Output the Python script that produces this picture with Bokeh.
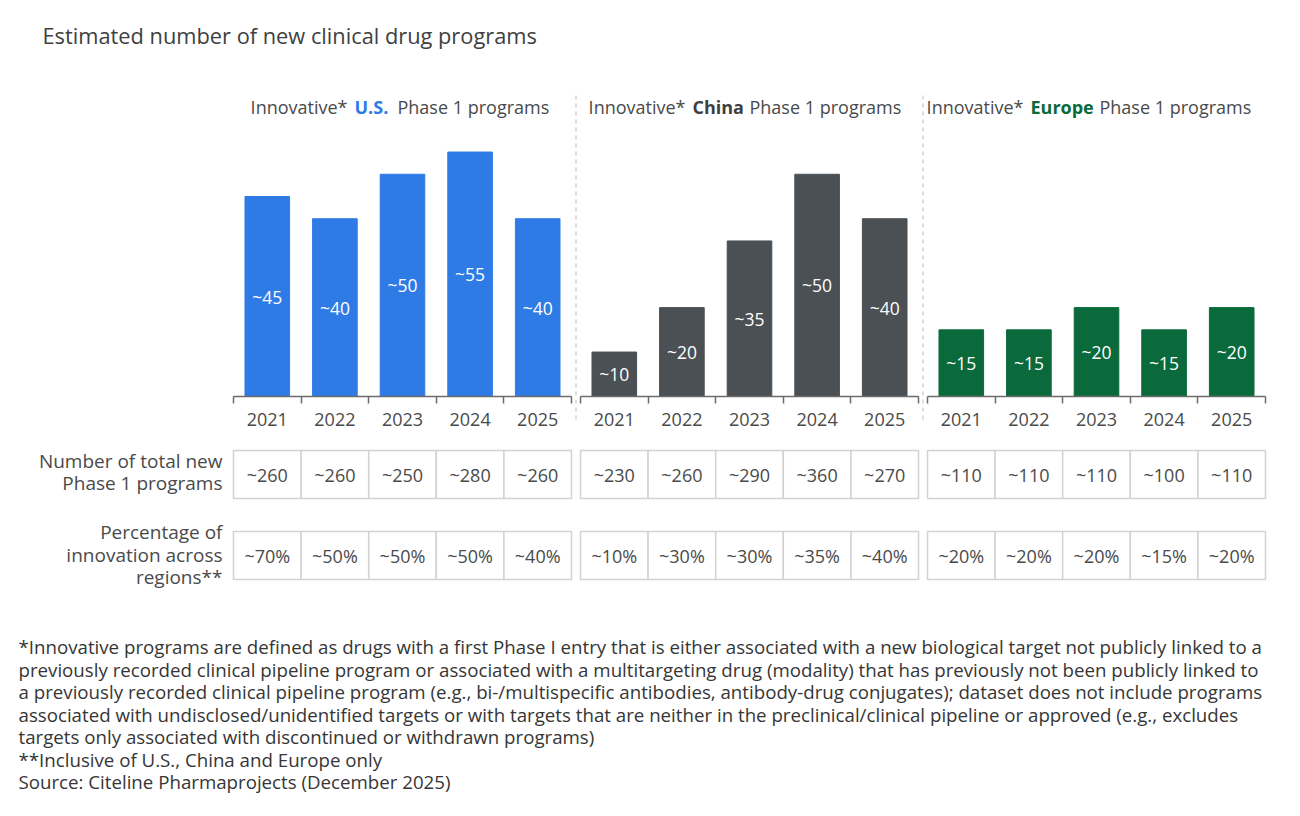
from bokeh.plotting import figure
from bokeh.layouts import column, row
from bokeh.models import (Range1d, LinearAxis, FixedTicker, CustomJSTickFormatter,
                          ColumnDataSource)
from bokeh.core.properties import value
from bokeh.embed import file_html
from bokeh.resources import INLINE

# ---- data -------------------------------------------------------------
years = ["2021", "2022", "2023", "2024", "2025"]

us_innovative = [45, 40, 50, 55, 40]
cn_innovative = [10, 20, 35, 50, 40]
eu_innovative = [15, 15, 20, 15, 20]

us_total = [260, 260, 250, 280, 260]
cn_total = [230, 260, 290, 360, 270]
eu_total = [110, 110, 110, 100, 110]

us_pct = [70, 50, 50, 50, 40]
cn_pct = [10, 30, 30, 35, 40]
eu_pct = [20, 20, 20, 15, 20]

row_labels = [["Number of total new", "Phase 1 programs"],
              ["Percentage of", "innovation across", "regions**"]]

title_text = "Estimated number of new clinical drug programs"
footnotes = [
    "*Innovative programs are defined as drugs with a first Phase I entry that is either associated with a new biological target not publicly linked to a",
    "previously recorded clinical pipeline program or associated with a multitargeting drug (modality) that has previously not been publicly linked to",
    "a previously recorded clinical pipeline program (e.g., bi-/multispecific antibodies, antibody-drug conjugates); dataset does not include programs",
    "associated with undisclosed/unidentified targets or with targets that are neither in the preclinical/clinical pipeline or approved (e.g., excludes",
    "targets only associated with discontinued or withdrawn programs)",
    "**Inclusive of U.S., China and Europe only",
    "Source: Citeline Pharmaprojects (December 2025)",
]

# ---- styling / layout constants ---------------------------------------
FONT = "Open Sans"
TEXT = "#4a4a4a"
GRID = "#d2d2d2"
US_BLUE = "#2f7be6"
CN_GREY = "#4b5055"
EU_GREEN = "#0b6a3b"

W_LEFT, W_PANEL = 227, 347
H_TOP, H_MID, H_FOOT = 72, 528, 216
SLOT_PX = 67.6          # width of one year slot
AXIS_INSET = 6          # px between panel edge and first slot
BASE_PX = 324           # baseline distance from the top of a panel
PX_PER_UNIT = 200 / 45  # vertical scale of the bars


def py(page_y):
    """page-pixel row -> value units of the panel y range"""
    return (BASE_PX + H_TOP - page_y) / PX_PER_UNIT


def base_fig(width, height, xr, yr):
    p = figure(width=width, height=height, x_range=xr, y_range=yr,
               output_backend="svg", toolbar_location=None,
               x_axis_type=None, y_axis_type=None, min_border=0,
               outline_line_color=None, background_fill_color="white",
               border_fill_color="white")
    return p


def panel(word, word_color, bar_color, innov, total, pct, bold_px, separator):
    x0 = -AXIS_INSET / SLOT_PX
    x1 = x0 + W_PANEL / SLOT_PX
    p = base_fig(W_PANEL, H_MID, Range1d(x0, x1),
                 Range1d(-(H_MID - BASE_PX) / PX_PER_UNIT, BASE_PX / PX_PER_UNIT))

    centers = [i + 0.5 for i in range(len(years))]

    # bars and their labels
    src = ColumnDataSource(dict(x=centers, top=innov,
                                mid=[v / 2 for v in innov],
                                lab=["~%d" % v for v in innov]))
    p.vbar(x="x", top="top", bottom=0, width=0.66, source=src,
           fill_color=bar_color, line_color=bar_color)
    p.text(x="x", y="mid", text="lab", source=src, text_color="white",
           text_font=value(FONT), text_font_size="17.5px",
           text_align="center", text_baseline="middle")

    # year axis sitting on the bar baseline
    ax = LinearAxis(fixed_location=0, bounds=(0, len(years)),
                    ticker=FixedTicker(ticks=centers,
                                       minor_ticks=list(range(len(years) + 1))),
                    formatter=CustomJSTickFormatter(
                        args=dict(labels=years),
                        code="return labels[Math.round(tick - 0.5)];"))
    ax.major_tick_line_color = None
    ax.major_tick_in = 0
    ax.major_tick_out = 0
    ax.minor_tick_in = 0
    ax.minor_tick_out = 7
    ax.minor_tick_line_color = "#6b6b6b"
    ax.minor_tick_line_width = 1.5
    ax.axis_line_color = "#6b6b6b"
    ax.axis_line_width = 1.5
    ax.major_label_text_font = FONT
    ax.major_label_text_font_size = "18px"
    ax.major_label_text_color = TEXT
    ax.major_label_standoff = 9
    p.add_layout(ax, "below")

    # table of totals and shares
    cell_h = 48 / PX_PER_UNIT
    n = len(years)
    tsrc = ColumnDataSource(dict(
        x=centers * 2,
        y=[py(474)] * n + [py(555)] * n,
        txt=["~%d" % v for v in total] + ["~%d%%" % v for v in pct]))
    p.rect(x="x", y="y", width=1, height=cell_h, source=tsrc,
           fill_color="white", line_color=GRID, line_width=1.5)
    p.text(x="x", y="y", text="txt", source=tsrc, text_color=TEXT,
           text_font=value(FONT), text_font_size="18px",
           text_align="center", text_baseline="middle")

    # panel heading with the region name in bold
    hy = py(106)
    bl, br = bold_px
    p.text(x=[(bl - 7) / SLOT_PX], y=[hy], text=["Innovative*"],
           text_color=TEXT, text_font=value(FONT), text_font_size="18px",
           text_align="right", text_baseline="middle")
    p.text(x=[bl / SLOT_PX], y=[hy], text=[word], text_color=word_color,
           text_font=value(FONT), text_font_size="18px",
           text_font_style="bold", text_align="left", text_baseline="middle")
    p.text(x=[(br + 6) / SLOT_PX], y=[hy], text=["Phase 1 programs"],
           text_color=TEXT, text_font=value(FONT), text_font_size="18px",
           text_align="left", text_baseline="middle")

    if separator:
        sx = -4.5 / SLOT_PX
        p.segment(x0=[sx], y0=[py(95)], x1=[sx], y1=[py(423)],
                  line_color="#c8c8c8", line_width=1.2, line_dash="4 4")
    return p


us = panel("U.S.", US_BLUE, US_BLUE, us_innovative, us_total, us_pct, (121, 158), False)
cn = panel("China", "#3f3f3f", CN_GREY, cn_innovative, cn_total, cn_pct, (112, 163), True)
eu = panel("Europe", EU_GREEN, EU_GREEN, eu_innovative, eu_total, eu_pct, (103, 166), True)

# row labels on the left
left = base_fig(W_LEFT, H_MID, Range1d(0, W_LEFT), Range1d(H_MID, 0))
label_lines = row_labels[0] + row_labels[1]
label_y = [460.5, 482.5, 531, 554, 576]
left.text(x=[222] * len(label_lines), y=[y - H_TOP for y in label_y],
          text=label_lines, text_color=TEXT, text_font=value(FONT),
          text_font_size="19px", text_align="right", text_baseline="middle")

# chart title
top = base_fig(1300, H_TOP, Range1d(0, 1300), Range1d(H_TOP, 0))
top.text(x=[42], y=[35], text=[title_text], text_color="#404040",
         text_font=value(FONT), text_font_size="21.8px",
         text_align="left", text_baseline="middle")

# footnotes
foot = base_fig(1300, H_FOOT, Range1d(0, 1300), Range1d(H_FOOT, 0))
foot.text(x=[18] * len(footnotes), y=[46 + 22.5 * i for i in range(len(footnotes))],
          text=footnotes, text_color="#363636", text_font=value(FONT),
          text_font_size="18.7px", text_align="left", text_baseline="middle")

layout = column(top, row(left, us, cn, eu), foot)

open("out.html", "w").write(file_html(layout, INLINE))
